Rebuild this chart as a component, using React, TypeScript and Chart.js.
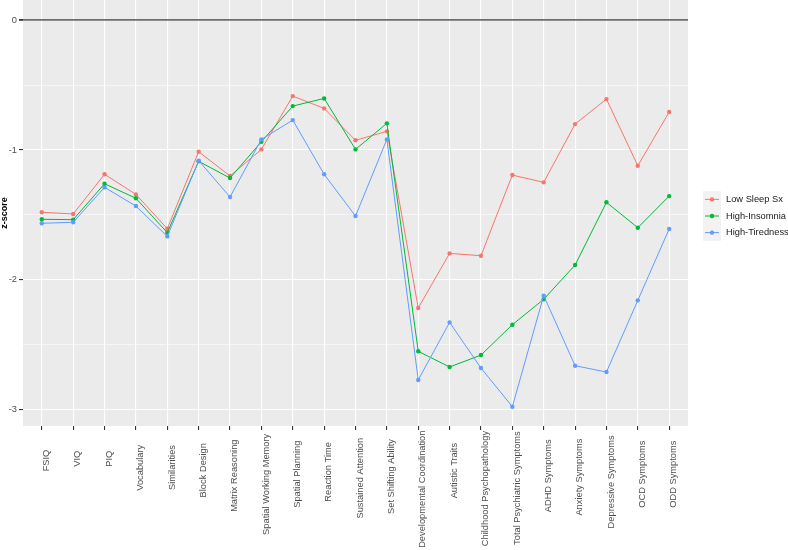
import React, { useEffect, useRef } from "react";
import { Chart, registerables } from "chart.js";
Chart.register(...registerables);

const categories = [
  "FSIQ",
  "VIQ",
  "PIQ",
  "Vocabulary",
  "Similarities",
  "Block Design",
  "Matrix Reasoning",
  "Spatial Working Memory",
  "Spatial Planning",
  "Reaction Time",
  "Sustained Attention",
  "Set Shifting Ability",
  "Developmental Coordination",
  "Autistic Traits",
  "Childhood Psychopathology",
  "Total Psychiatric Symptoms",
  "ADHD Symptoms",
  "Anxiety Symptoms",
  "Depressive Symptoms",
  "OCD Symptoms",
  "ODD Symptoms",
];

const lowSleep = [-1.48, -1.493, -1.187, -1.342, -1.607, -1.013, -1.2, -0.995, -0.584, -0.679, -0.925, -0.856, -2.218, -1.797, -1.815, -1.193, -1.249, -0.8, -0.607, -1.121, -0.707];
const highInsomnia = [-1.534, -1.537, -1.26, -1.372, -1.637, -1.087, -1.216, -0.936, -0.661, -0.602, -0.995, -0.794, -2.552, -2.673, -2.581, -2.347, -2.151, -1.887, -1.403, -1.599, -1.355];
const highTiredness = [-1.565, -1.557, -1.288, -1.432, -1.666, -1.082, -1.362, -0.918, -0.769, -1.187, -1.509, -0.918, -2.773, -2.329, -2.681, -2.979, -2.123, -2.663, -2.712, -2.159, -1.609];

const seriesNames = ["Low Sleep Sx", "High-Insomnia", "High-Tiredness"];
const seriesColors = ["#F8766D", "#00BA38", "#619CFF"];

const yMajorTicks = [0, -1, -2, -3];
const yMinorTicks = [-0.5, -1.5, -2.5];
const yAxisTitle = "z-score";

const FONT = "'Liberation Sans', Arial, sans-serif";

export default function App() {
  const ref = useRef<HTMLCanvasElement>(null);

  useEffect(() => {
    document.body.style.margin = "0";
    const values = [lowSleep, highInsomnia, highTiredness];

    const bgPlugin = {
      id: "panelBg",
      beforeDraw(chart: any) {
        const { ctx, chartArea: a } = chart;
        ctx.save();
        ctx.fillStyle = "#FFFFFF";
        ctx.fillRect(0, 0, chart.width, chart.height);
        ctx.fillStyle = "#EBEBEB";
        ctx.fillRect(a.left, a.top, a.right - a.left, a.bottom - a.top);
        ctx.restore();
      },
    };

    // ggplot-style rotated category labels (angle 90, partial justification)
    const xLabelPlugin = {
      id: "ggXLabels",
      afterDraw(chart: any) {
        const { ctx, chartArea: a } = chart;
        const xs = chart.scales.x;
        const anchorY = a.bottom + 28;
        ctx.save();
        ctx.font = `9.3px ${FONT}`;
        ctx.fillStyle = "#4D4D4D";
        ctx.textAlign = "left";
        ctx.textBaseline = "top";
        categories.forEach((label, i) => {
          const x = xs.getPixelForValue(i);
          const w = ctx.measureText(label).width;
          ctx.save();
          ctx.translate(x, anchorY);
          ctx.rotate(-Math.PI / 2);
          ctx.fillText(label, -0.8 * w, 0);
          ctx.restore();
        });
        ctx.restore();
      },
    };

    const legendPlugin = {
      id: "ggLegend",
      afterDraw(chart: any) {
        const { ctx, chartArea: a } = chart;
        const x0 = a.right + 15;
        const keyW = 18;
        const keyH = 16.6;
        const cy = (a.top + a.bottom) / 2 + 3;
        const y0 = cy - (keyH * seriesNames.length) / 2;
        ctx.save();
        ctx.fillStyle = "#F2F2F2";
        ctx.fillRect(x0, y0, keyW, keyH * seriesNames.length);
        seriesNames.forEach((name, i) => {
          const yc = y0 + keyH * (i + 0.5);
          ctx.strokeStyle = seriesColors[i];
          ctx.lineWidth = 1;
          ctx.beginPath();
          ctx.moveTo(x0 + 2, yc);
          ctx.lineTo(x0 + keyW - 2, yc);
          ctx.stroke();
          ctx.fillStyle = seriesColors[i];
          ctx.beginPath();
          ctx.arc(x0 + keyW / 2, yc, 2.2, 0, Math.PI * 2);
          ctx.fill();
          ctx.fillStyle = "#1A1A1A";
          ctx.font = `9.3px ${FONT}`;
          ctx.textAlign = "left";
          ctx.textBaseline = "middle";
          ctx.fillText(name, x0 + keyW + 5, yc);
        });
        ctx.restore();
      },
    };

    const chart = new Chart(ref.current as HTMLCanvasElement, {
      type: "line",
      data: {
        datasets: values.map((vals, i) => ({
          label: seriesNames[i],
          data: vals.map((v, j) => ({ x: j, y: v })),
          borderColor: seriesColors[i],
          backgroundColor: seriesColors[i],
          borderWidth: 1,
          pointRadius: 2.2,
          pointBorderWidth: 0,
          tension: 0,
          order: 2 - i,
        })),
      },
      options: {
        responsive: false,
        animation: false,
        layout: { autoPadding: false, padding: { top: 0, right: 100, bottom: 0, left: 0 } },
        plugins: { legend: { display: false }, tooltip: { enabled: false } },
        scales: {
          x: {
            type: "linear",
            min: -0.6,
            max: categories.length - 0.4,
            afterBuildTicks: (s: any) => {
              s.ticks = categories.map((_, i) => ({ value: i }));
            },
            afterFit: (s: any) => {
              s.height = 124;
              s.paddingLeft = 0;
              s.paddingRight = 0;
            },
            ticks: {
              display: false,
              autoSkip: false,
            },
            grid: {
              color: "#FFFFFF",
              lineWidth: 1.1,
              drawTicks: true,
              tickLength: 4,
              tickColor: "#333333",
            },
            border: { display: false },
          },
          y: {
            type: "linear",
            min: -3.128,
            max: 0.157,
            afterBuildTicks: (s: any) => {
              s.ticks = [...yMajorTicks, ...yMinorTicks]
                .sort((p, q) => p - q)
                .map((v) => ({ value: v }));
            },
            afterFit: (s: any) => {
              s.width = 23;
              s.paddingTop = 0;
              s.paddingBottom = 0;
            },
            title: {
              display: true,
              text: yAxisTitle,
              color: "#000000",
              font: { size: 9, weight: "bold", family: FONT, lineHeight: 1 },
              padding: 0,
            },
            ticks: {
              padding: 2,
              color: "#4D4D4D",
              font: { size: 9.3, family: FONT },
              callback: (v: any) => (yMajorTicks.includes(Number(v)) ? String(v) : ""),
            },
            grid: {
              color: (c: any) => (c.tick && c.tick.value === 0 ? "#6E6E6E" : "#FFFFFF"),
              lineWidth: (c: any) =>
                c.tick && c.tick.value === 0 ? 1.8 : yMajorTicks.includes(c.tick?.value) ? 1.1 : 0.55,
              tickLength: 4,
              tickColor: (c: any) => (yMajorTicks.includes(c.tick?.value) ? "#333333" : "rgba(0,0,0,0)"),
            },
            border: { display: false },
          },
        },
      },
      plugins: [bgPlugin, xLabelPlugin, legendPlugin],
    });
    return () => chart.destroy();
  }, []);

  return (
    <div style={{ position: "absolute", left: 0, top: 0, width: 788, height: 550 }}>
      <canvas ref={ref} width={788} height={550} style={{ width: 788, height: 550 }} />
    </div>
  );
}
